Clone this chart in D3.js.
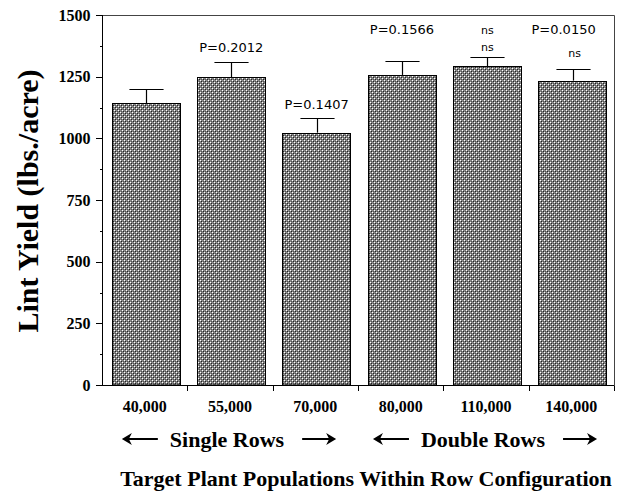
<!DOCTYPE html>
<html>
<head>
<meta charset="utf-8">
<style>
	body { margin: 0; background: #fff; }
	.tick text { font-family: "Liberation Serif", serif; font-weight: bold; font-size: 16px; fill: #000; }
	.axis path, .axis line { stroke: #000; shape-rendering: crispEdges; }
	.note { font-family: "DejaVu Sans", sans-serif; fill: #000; text-anchor: middle; }
	.title { font-family: "Liberation Serif", serif; font-weight: bold; fill: #000; text-anchor: middle; }
</style>
<script src="https://d3js.org/d3.v7.min.js"></script>
</head>
<body>
<script>
var categories = ['40,000', '55,000', '70,000', '80,000', '110,000', '140,000'];
var yields = [1142, 1247, 1023, 1257, 1293, 1234];
var errTops = [1202, 1308, 1081, 1314, 1328, 1282];
var yTicks = [0, 250, 500, 750, 1000, 1250, 1500];
// notes sit at a yield level above the bars
var notes = [
	{cat: '55,000', text: 'P=0.2012', at: 1350, size: 13, dx: 0},
	{cat: '70,000', text: 'P=0.1407', at: 1119, size: 13, dx: 0},
	{cat: '80,000', text: 'P=0.1566', at: 1423, size: 13, dx: 0},
	{cat: '110,000', text: 'ns', at: 1423, size: 11, dx: 0},
	{cat: '110,000', text: 'ns', at: 1354, size: 11, dx: 0},
	{cat: '140,000', text: 'P=0.0150', at: 1423, size: 13, dx: -9},
	{cat: '140,000', text: 'ns', at: 1330, size: 11, dx: 2}
];
var groups = [
	{name: 'Single Rows', cats: ['40,000', '55,000', '70,000']},
	{name: 'Double Rows', cats: ['80,000', '110,000', '140,000']}
];

function draw() {
	var W = 621, H = 496;
	var pl = 102, pr = 614, pt = 15, pb = 385;

	var svg = d3.select('body').append('svg')
		.attr('width', W)
		.attr('height', H);

	var defs = svg.append('defs');
	var pat = defs.append('pattern')
		.attr('id', 'dots')
		.attr('width', 4).attr('height', 4)
		.attr('patternUnits', 'userSpaceOnUse');
	pat.append('rect').attr('width', 4).attr('height', 4).attr('fill', '#858585');
	[[0, 0, '#fff'], [2, 2, '#fff'], [1, 1, '#222'], [3, 3, '#222'], [1, 3, '#555'], [3, 1, '#555']]
		.forEach(function(p) {
			pat.append('rect').attr('x', p[0]).attr('y', p[1])
				.attr('width', 1).attr('height', 1).attr('fill', p[2]);
		});

	var x = d3.scaleBand()
		.domain(categories)
		.range([pl, pr])
		.padding(0);
	var bw = x.bandwidth();

	var y = d3.scaleLinear()
		.domain([0, 1500])
		.range([pb, pt]);

	// frame top and right
	svg.append('path')
		.attr('d', 'M' + pl + ',' + (pt + 0.5) + 'H' + (pr + 0.5) + 'V' + (pb + 3))
		.attr('fill', 'none')
		.attr('stroke', '#444')
		.attr('stroke-width', 1);

	// bars
	svg.append('g').selectAll('rect')
		.data(categories)
		.enter()
		.append('rect')
		.attr('x', (d) => Math.round(x(d) + bw * 0.115) + 0.5)
		.attr('y', (d, i) => Math.round(y(yields[i])) + 0.5)
		.attr('width', Math.round(bw * 0.8))
		.attr('height', (d, i) => pb - Math.round(y(yields[i])) - 0.5)
		.attr('fill', 'url(#dots)')
		.attr('stroke', '#000')
		.attr('stroke-width', 1);

	// error bars
	var err = svg.append('g')
		.attr('stroke', '#000')
		.attr('stroke-width', 1.2);
	categories.forEach(function(c, i) {
		var cx = Math.round(x(c) + bw * 0.515) + 0.5;
		var ty = Math.round(y(errTops[i])) + 0.5;
		err.append('line')
			.attr('x1', cx).attr('x2', cx)
			.attr('y1', y(yields[i])).attr('y2', ty);
		err.append('line')
			.attr('x1', cx - bw * 0.2).attr('x2', cx + bw * 0.2)
			.attr('y1', ty).attr('y2', ty);
	});

	// y axis
	var yAxis = d3.axisLeft(y)
		.tickValues(yTicks)
		.tickFormat(d3.format('d'))
		.tickSize(7)
		.tickPadding(5)
		.tickSizeOuter(0);
	var gy = svg.append('g')
		.attr('class', 'axis')
		.attr('transform', 'translate(' + (pl + 0.5) + ',0)')
		.call(yAxis);
	gy.select('.domain').attr('d', 'M0,' + pt + 'V' + pb);
	// minor ticks
	gy.selectAll('.minor')
		.data(d3.range(125, 1500, 250))
		.enter()
		.append('line')
		.attr('class', 'minor')
		.attr('x1', -3).attr('x2', 0)
		.attr('y1', (d) => Math.round(y(d)) + 0.5)
		.attr('y2', (d) => Math.round(y(d)) + 0.5);

	// x axis
	var gx = svg.append('g')
		.attr('class', 'axis')
		.attr('transform', 'translate(0,' + (pb + 0.5) + ')');
	gx.append('line')
		.attr('x1', pl - 6).attr('x2', pr)
		.attr('y1', 0).attr('y2', 0);
	gx.selectAll('.sep')
		.data(categories)
		.enter()
		.append('line')
		.attr('x1', (d) => Math.round(x(d) + bw) + 0.5)
		.attr('x2', (d) => Math.round(x(d) + bw) + 0.5)
		.attr('y1', 0).attr('y2', 5);
	gx.selectAll('.lab')
		.data(categories)
		.enter()
		.append('text')
		.attr('class', 'title')
		.attr('x', (d) => x(d) + bw * 0.5)
		.attr('y', 26)
		.attr('font-size', 16)
		.text((d) => d);

	// notes
	svg.append('g').selectAll('text')
		.data(notes)
		.enter()
		.append('text')
		.attr('class', 'note')
		.attr('x', (d) => x(d.cat) + bw * 0.515 + d.dx)
		.attr('y', (d) => y(d.at))
		.attr('font-size', (d) => d.size)
		.text((d) => d.text);

	// group labels with arrows
	var arrowY = 439;
	groups.forEach(function(g) {
		var cx = d3.mean(g.cats, (c) => x(c) + bw * 0.5) - 3;
		var t = svg.append('text')
			.attr('class', 'title')
			.attr('x', cx)
			.attr('y', 447)
			.attr('font-size', 22)
			.text(g.name);
		var tw = t.node().getComputedTextLength();
		var l0 = cx - tw / 2 - 12, r0 = cx + tw / 2 + 18;
		svg.append('path')
			.attr('d', 'M' + (l0 - 34) + ',' + arrowY + 'H' + l0)
			.attr('stroke', '#000').attr('stroke-width', 2);
		svg.append('path')
			.attr('d', 'M' + (l0 - 36) + ',' + arrowY + 'l10,-6l-3,6l3,6z')
			.attr('fill', '#000');
		svg.append('path')
			.attr('d', 'M' + r0 + ',' + arrowY + 'H' + (r0 + 32))
			.attr('stroke', '#000').attr('stroke-width', 2);
		svg.append('path')
			.attr('d', 'M' + (r0 + 34) + ',' + arrowY + 'l-10,-6l3,6l-3,6z')
			.attr('fill', '#000');
	});

	// axis titles
	svg.append('text')
		.attr('class', 'title')
		.attr('transform', 'translate(38,201) rotate(-90)')
		.attr('font-size', 30)
		.text('Lint Yield (lbs./acre)');

	svg.append('text')
		.attr('class', 'title')
		.attr('x', 366)
		.attr('y', 486)
		.attr('font-size', 22)
		.text('Target Plant Populations Within Row Configuration');
}

draw();
</script>
</body>
</html>
